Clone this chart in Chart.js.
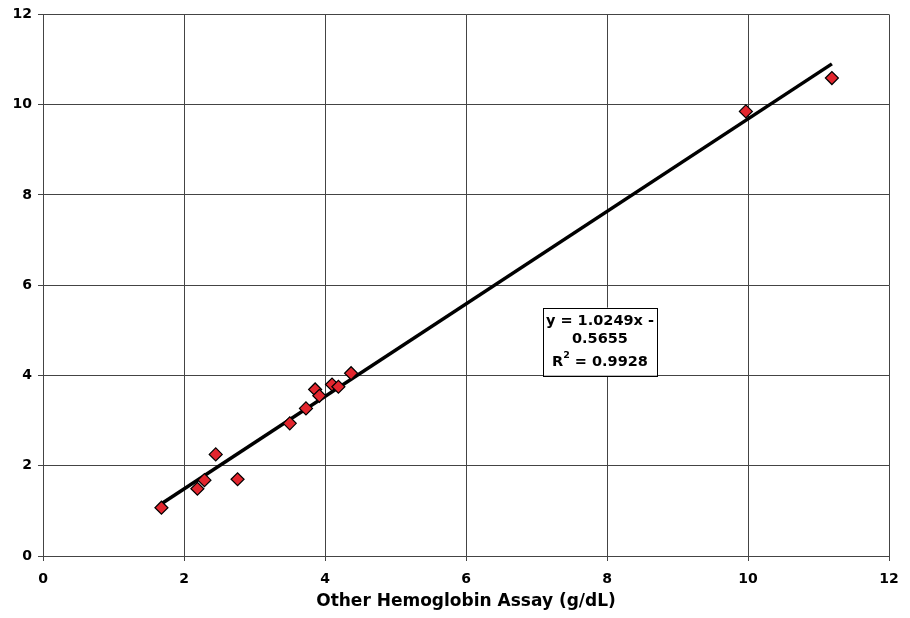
<!DOCTYPE html>
<html><head><meta charset="utf-8">
<script src="https://cdn.jsdelivr.net/npm/chart.js@4/dist/chart.umd.min.js"></script>
<style>html,body{margin:0;padding:0;background:#fff}#wrap{width:910px;height:618px}</style>
</head><body><div id="wrap"><canvas id="c" width="910" height="618"></canvas></div>
<script>
const xValues = [1.68, 2.19, 2.29, 2.45, 2.76, 3.50, 3.73, 3.86, 3.92, 4.10, 4.19, 4.37, 9.97, 11.19];
const yValues = [1.07, 1.49, 1.68, 2.25, 1.70, 2.94, 3.27, 3.69, 3.55, 3.80, 3.75, 4.05, 9.85, 10.59];
const slope = 1.0249;
const intercept = -0.5655;
const rSquared = 0.9928;
const xTicks = [0, 2, 4, 6, 8, 10, 12];
const yTicks = [0, 2, 4, 6, 8, 10, 12];
const xTitle = 'Other Hemoglobin Assay (g/dL)';
const labelLines = ['y = 1.0249x -', '0.5655'];

const points = xValues.map((x, i) => ({x: x, y: yValues[i]}));
const xMin = Math.min(...xValues), xMax = Math.max(...xValues);
const trend = [{x: xMin, y: slope * xMin + intercept}, {x: xMax, y: slope * xMax + intercept}];

const FONT = '"DejaVu Sans", Verdana, sans-serif';

const eqLabel = {
  id: 'eqLabel',
  afterDatasetsDraw(chart) {
    const ctx = chart.ctx;
    const xs = chart.scales.x, ys = chart.scales.y;
    const cx = xs.getPixelForValue(7.9), cy = ys.getPixelForValue(4.75);
    const w = 114, h = 68;
    ctx.save();
    ctx.fillStyle = '#fff';
    ctx.fillRect(cx - w / 2, cy - h / 2, w, h);
    ctx.strokeStyle = '#000';
    ctx.lineWidth = 1;
    ctx.strokeRect(Math.round(cx - w / 2) + 0.5, Math.round(cy - h / 2) + 0.5, w, h);
    ctx.fillStyle = '#000';
    const big = 'bold 14.5px ' + FONT, small = 'bold 9.5px ' + FONT;
    ctx.font = big;
    ctx.textAlign = 'center';
    ctx.textBaseline = 'middle';
    ctx.fillText(labelLines[0], cx, cy - 20);
    ctx.fillText(labelLines[1], cx, cy - 2);
    const a = 'R', b = ' = ' + rSquared.toFixed(4);
    const wa = ctx.measureText(a).width, wb = ctx.measureText(b).width;
    ctx.font = small;
    const ws = ctx.measureText('2').width;
    const total = wa + ws + wb;
    const sx = cx - total / 2;
    ctx.textAlign = 'left';
    ctx.font = big;
    ctx.fillText(a, sx, cy + 21);
    ctx.font = small;
    ctx.fillText('2', sx + wa, cy + 14);
    ctx.font = big;
    ctx.fillText(b, sx + wa + ws, cy + 21);
    ctx.restore();
  }
};

new Chart(document.getElementById('c'), {
  type: 'scatter',
  data: {
    datasets: [
      {
        label: 'Trend',
        type: 'line',
        data: trend,
        borderColor: '#000',
        borderWidth: 3.5,
        pointRadius: 0,
        fill: false,
        order: 2
      },
      {
        label: 'Data',
        data: points,
        pointStyle: 'rectRot',
        pointRadius: 6.5,
        pointHoverRadius: 6.5,
        backgroundColor: '#E3262E',
        borderColor: '#000',
        borderWidth: 1.2,
        order: 1
      }
    ]
  },
  options: {
    responsive: false,
    animation: false,
    events: [],
    layout: {padding: {top: 12, right: 21, left: 0, bottom: 0}},
    plugins: {legend: {display: false}, tooltip: {enabled: false}},
    scales: {
      x: {
        type: 'linear', min: 0, max: 12,
        afterBuildTicks(s) { s.ticks = xTicks.map(v => ({value: v})); },
        afterFit(s) { s.height = 62; },
        grid: {color: '#444', lineWidth: 1, tickLength: 5, drawTicks: true},
        border: {color: '#444', width: 1},
        ticks: {color: '#000', padding: 10, font: {family: FONT, size: 14, weight: 'bold'}},
        title: {display: true, text: xTitle, color: '#000', padding: {top: 2, bottom: 6}, font: {family: FONT, size: 17, weight: 'bold'}}
      },
      y: {
        type: 'linear', min: 0, max: 12,
        afterBuildTicks(s) { s.ticks = yTicks.map(v => ({value: v})); },
        afterFit(s) { s.width = 43; },
        grid: {color: '#444', lineWidth: 1, tickLength: 5},
        border: {color: '#444', width: 1},
        ticks: {color: '#000', padding: 6, font: {family: FONT, size: 14, weight: 'bold'}}
      }
    }
  },
  plugins: [eqLabel]
});
</script>
</body></html>
